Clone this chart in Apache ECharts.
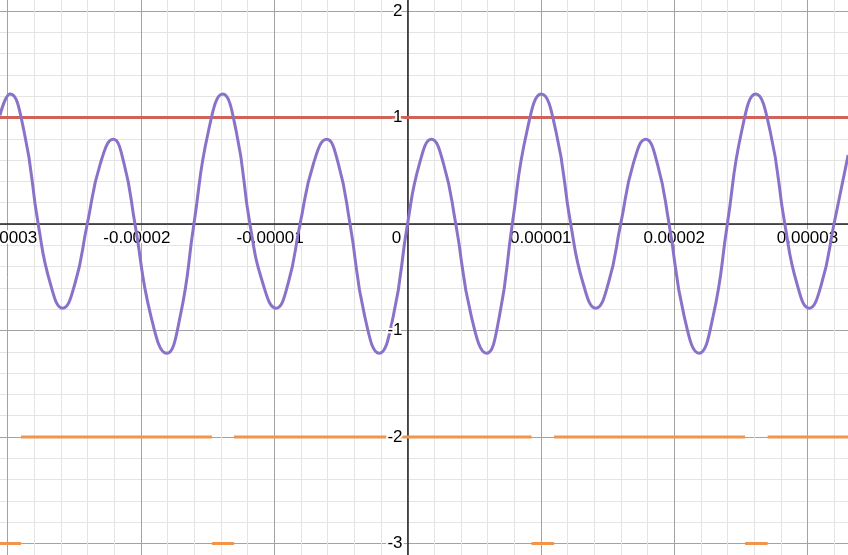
<!DOCTYPE html>
<html>
<head>
<meta charset="utf-8">
<script src="https://cdn.jsdelivr.net/npm/echarts@6/dist/echarts.min.js"></script>
<style>
  html, body { margin: 0; padding: 0; background: #fff; }
  #chart { width: 848px; height: 555px; }
</style>
</head>
<body>
<div id="chart"></div>
<script>
// Purple curve: points (in units of 1e-5 s for x)
const waveX = [-3.057, -2.981, -2.8755, -2.770, -2.6785, -2.587, -2.4945, -2.402, -2.3045, -2.207, -2.1255,
  -2.044, -1.925, -1.806, -1.704, -1.602, -1.494, -1.386, -1.284, -1.182, -1.084, -0.986, -0.896,
  -0.806, -0.706, -0.606, -0.5185, -0.431, -0.3215, -0.212, -0.106, 0, 0.0895, 0.179, 0.2705,
  0.362, 0.478, 0.594, 0.690, 0.786, 0.895, 1.004, 1.114, 1.224, 1.318, 1.412, 1.5055, 1.599,
  1.693, 1.787, 1.8745, 1.962, 2.0745, 2.187, 2.293, 2.399, 2.5055, 2.612, 2.721, 2.830, 2.921,
  3.012, 3.1055, 3.199, 3.305];
const waveY = [1.02, 1.22, 0.866, 0, -0.561, -0.79, -0.561, 0, 0.564, 0.795, 0.564,
  0, -0.862, -1.214, -0.862, 0, 0.866, 1.22, 0.866, 0, -0.561, -0.79, -0.561,
  0, 0.564, 0.795, 0.564, 0, -0.862, -1.214, -0.862, 0, 0.564, 0.795, 0.564,
  0, -0.862, -1.214, -0.862, 0, 0.866, 1.22, 0.866, 0, -0.561, -0.79, -0.561, 0,
  0.564, 0.795, 0.564, 0, -0.862, -1.214, -0.862, 0, 0.866, 1.22, 0.866, 0, -0.561,
  -0.79, -0.561, 0, 0.648];
const xUnit = 1e-5;

// Red constant line
const redLevel = 1;
const redX = [-4, 4];

// Orange step function: level changes at these x values (1e-5 s units)
const stepEdges = [-3.2, -2.899, -1.467, -1.302, 0.930, 1.099, 2.532, 2.701, 3.5];
const stepLevels = [-3, -2, -3, -2, -3, -2, -3, -2];

// Axis ticks
const xTickStep = 1e-5;
const yTickStep = 1;

const wave = waveX.map((x, i) => [x * xUnit, waveY[i]]);
const red = redX.map(x => [x * xUnit, redLevel]);
const step = [];
stepLevels.forEach((lv, i) => {
  step.push([stepEdges[i] * xUnit, lv]);
  step.push([stepEdges[i + 1] * xUnit, lv]);
  step.push([stepEdges[i + 1] * xUnit, null]);
});

const chart = echarts.init(document.getElementById('chart'), null, { renderer: 'canvas' });
const FONT = 'Liberation Sans, Arial, sans-serif';
const yLabel = {
  margin: 5, fontSize: 17, color: '#000', fontFamily: FONT,
  textBorderColor: '#fff', textBorderWidth: 4, hideOverlap: false,
  formatter: v => (Math.abs(v) < 1e-12 ? '' : String(Math.round(v)))
};
chart.setOption({
  animation: false,
  backgroundColor: '#ffffff',
  grid: { left: -125.8, right: -92.8, top: -95.5, bottom: -95, containLabel: false, outerBoundsMode: 'none' },
  xAxis: {
    type: 'value', min: -4e-5, max: 4e-5, interval: xTickStep,
    position: 'bottom', offset: -426,
    axisLine: { onZero: false, lineStyle: { color: '#222', width: 1.5 } },
    axisTick: { show: false },
    splitLine: { show: true, lineStyle: { color: '#a3a3a3', width: 1 } },
    minorTick: { show: false, splitNumber: 5 },
    minorSplitLine: { show: true, lineStyle: { color: '#e4e4e4', width: 1 } },
    axisLabel: {
      margin: 6, fontSize: 17, color: '#000', fontFamily: FONT,
      textBorderColor: '#fff', textBorderWidth: 4, hideOverlap: false,
      formatter: v => {
        if (Math.abs(v) < 1e-12) return '{z|0}';
        const s = v.toFixed(5);
        return v < 0 ? '{n|' + s + '}' : s;
      },
      rich: {
        z: { fontSize: 17, color: '#000', fontFamily: FONT, padding: [0, 22, 0, 0], textBorderColor: '#fff', textBorderWidth: 4 },
        n: { fontSize: 17, color: '#000', fontFamily: FONT, padding: [0, 8, 0, 0], textBorderColor: '#fff', textBorderWidth: 4 }
      }
    }
  },
  yAxis: [
    {
      type: 'value', min: -4, max: 3, interval: yTickStep,
      position: 'left', offset: -533.3,
      axisLine: { onZero: false, lineStyle: { color: '#222', width: 1.5 } },
      axisTick: { show: false },
      splitLine: { show: true, lineStyle: { color: '#a3a3a3', width: 1 } },
      minorTick: { show: false, splitNumber: 5 },
      minorSplitLine: { show: true, lineStyle: { color: '#e4e4e4', width: 1 } },
      axisLabel: { show: false }
    },
    {
      type: 'value', min: -4, max: 3, interval: yTickStep,
      position: 'left', offset: -533.3, z: 10,
      axisLine: { show: false, onZero: false },
      axisTick: { show: false },
      splitLine: { show: false },
      minorSplitLine: { show: false },
      axisLabel: yLabel
    }
  ],
  series: [
    {
      type: 'line', data: step, showSymbol: false, connectNulls: false,
      lineStyle: { color: '#f0954b', width: 3, cap: 'butt' }, z: 3
    },
    {
      type: 'line', data: red, showSymbol: false,
      lineStyle: { color: '#d0625a', width: 3 }, z: 4
    },
    {
      type: 'line', data: wave, showSymbol: false, smooth: 0.5,
      lineStyle: { color: '#8a72c8', width: 3 }, z: 5
    }
  ]
});
</script>
</body>
</html>
